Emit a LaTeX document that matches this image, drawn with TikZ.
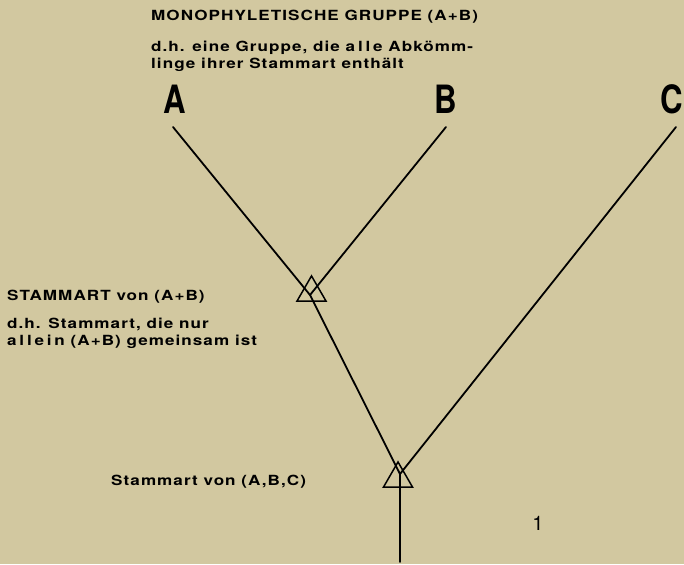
\documentclass[tikz,border=0pt]{standalone}
\usepackage{fontspec}
\setmainfont{TeX Gyre Heros}
\newfontfamily\lblfont[FakeStretch=1.22,LetterSpace=7.5]{TeX Gyre Heros}
\newfontfamily\taxfont[FakeStretch=0.8]{TeX Gyre Heros}
\usetikzlibrary{shapes.geometric}
\definecolor{paper}{RGB}{210,200,160}
\newcommand{\spaced}[1]{{\addfontfeature{LetterSpace=20}#1}}
\begin{document}
\begin{tikzpicture}[x=1pt,y=-1pt,
  branch/.style={line width=1.8pt,line cap=round},
  tri/.style={draw,line width=1.5pt,regular polygon,regular polygon sides=3,minimum size=33.5pt,inner sep=0pt},
  taxon/.style={font=\taxfont\fontsize{39}{39}\selectfont\bfseries,inner sep=0pt},
  lbl/.style={font=\lblfont\fontsize{14}{16.5}\selectfont\bfseries,inner sep=0pt,anchor=west,align=left}]
\fill[paper] (0,0) rectangle (684,564);
\useasboundingbox (0,0) rectangle (684,564);
% taxa labels
\node[taxon] (A) at (175,99) {A};
\node[taxon] (B) at (446,99) {B};
\node[taxon] (C) at (672,99) {C};
% line ends
\coordinate (a0) at (173,127);
\coordinate (b0) at (446,127);
\coordinate (c0) at (676,127);
\coordinate (j1) at (310,295);
\coordinate (j2) at (400,474);
\coordinate (root) at (400,562);
% triangles
\node[tri] (t1) at (311.5,292.7) {};
\node[tri] (t2) at (398,478.7) {};
% branches
\draw[branch] (a0) -- (j1) -- (j2);
\draw[branch] (b0) -- (j1);
\draw[branch] (c0) -- (j2) -- (root);
% texts
\node[lbl] (mono) at (151,17) {MONOPHYLETISCHE GRUPPE (A+B)};
\node[lbl,anchor=north west] (monotxt) at (151,41) {d.h. eine Gruppe, die \spaced{alle} Abkömm-\\linge ihrer Stammart enthält};
\node[lbl] (st1) at (7,297) {STAMMART von (A+B)};
\node[lbl,anchor=north west] (st1txt) at (7,318) {d.h. Stammart, die nur\\\spaced{allein} (A+B) gemeinsam ist};
\node[lbl] (st2) at (111,482) {Stammart von (A,B,C)};
\node[font=\fontsize{20}{20}\selectfont,inner sep=0pt] (num) at (538,523) {1};
\end{tikzpicture}
\end{document}
